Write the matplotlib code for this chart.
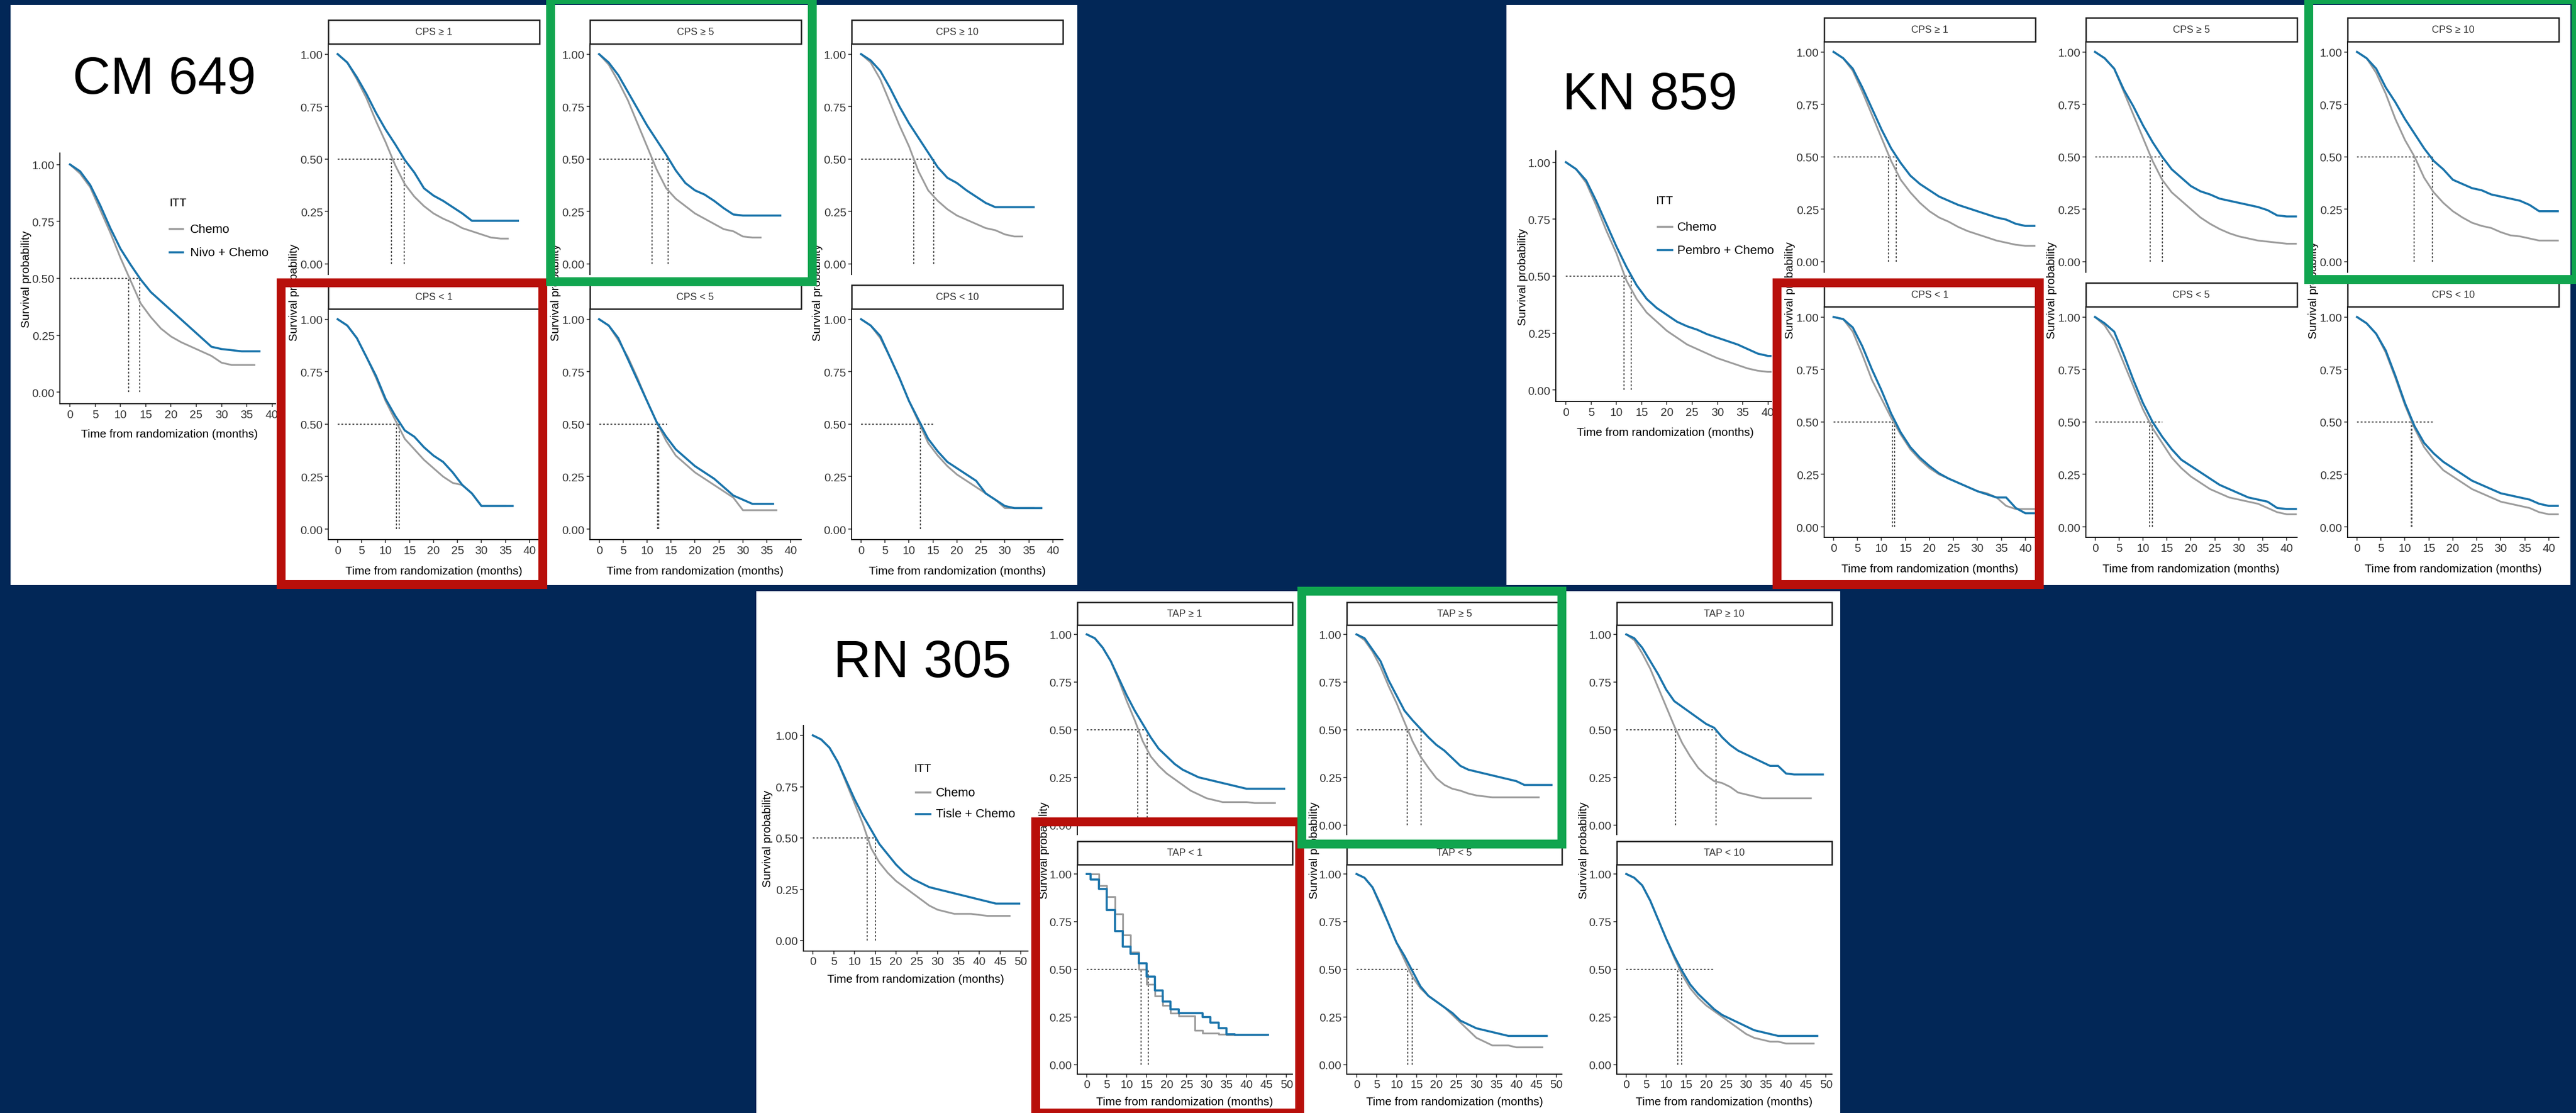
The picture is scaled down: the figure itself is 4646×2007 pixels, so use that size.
import matplotlib
matplotlib.use("Agg")
import matplotlib.pyplot as plt
from matplotlib.patches import Rectangle
from matplotlib.lines import Line2D

# ---- data (survival at 0, 2, 4, ... months) ----
grid_cm = list(range(0, 41, 2))
grid_kn = list(range(0, 43, 2))
grid_rn = list(range(0, 51, 2))

# CheckMate 649
cm_itt_chemo = [1.00, 0.96, 0.90, 0.80, 0.70, 0.59, 0.49, 0.39, 0.33, 0.28, 0.245, 0.22, 0.20, 0.18, 0.16, 0.13, 0.12, 0.12, 0.12]
cm_itt_io = [1.00, 0.97, 0.91, 0.82, 0.72, 0.63, 0.56, 0.495, 0.44, 0.40, 0.36, 0.32, 0.28, 0.24, 0.20, 0.19, 0.185, 0.18, 0.18]
cm_ge1_chemo = [1.00, 0.96, 0.88, 0.79, 0.68, 0.58, 0.47, 0.38, 0.32, 0.275, 0.24, 0.215, 0.195, 0.17, 0.155, 0.14, 0.125, 0.12]
cm_ge1_io = [1.00, 0.96, 0.89, 0.81, 0.72, 0.64, 0.57, 0.495, 0.435, 0.36, 0.325, 0.30, 0.27, 0.24, 0.205, 0.205, 0.205, 0.205, 0.205]
cm_ge5_chemo = [1.00, 0.95, 0.87, 0.78, 0.67, 0.56, 0.45, 0.36, 0.31, 0.275, 0.24, 0.215, 0.19, 0.165, 0.155, 0.13, 0.125]
cm_ge5_io = [1.00, 0.96, 0.90, 0.82, 0.74, 0.66, 0.59, 0.52, 0.445, 0.385, 0.35, 0.33, 0.30, 0.265, 0.235, 0.23, 0.23, 0.23, 0.23]
cm_ge10_chemo = [1.00, 0.96, 0.88, 0.77, 0.66, 0.56, 0.44, 0.35, 0.30, 0.26, 0.23, 0.21, 0.19, 0.17, 0.16, 0.14, 0.13]
cm_ge10_io = [1.00, 0.97, 0.92, 0.84, 0.75, 0.67, 0.60, 0.53, 0.46, 0.41, 0.385, 0.35, 0.32, 0.29, 0.27, 0.27, 0.27, 0.27]
cm_lt1_chemo = [1.00, 0.97, 0.91, 0.82, 0.72, 0.61, 0.52, 0.43, 0.38, 0.33, 0.29, 0.25, 0.22, 0.21, 0.17, 0.11, 0.11, 0.11]
cm_lt1_io = [1.00, 0.97, 0.91, 0.82, 0.73, 0.62, 0.54, 0.47, 0.44, 0.39, 0.35, 0.32, 0.27, 0.21, 0.17, 0.11, 0.11, 0.11, 0.11]
cm_lt5_chemo = [1.00, 0.97, 0.90, 0.82, 0.72, 0.61, 0.51, 0.42, 0.35, 0.31, 0.27, 0.24, 0.21, 0.18, 0.15, 0.09, 0.09, 0.09, 0.09]
cm_lt5_io = [1.00, 0.97, 0.91, 0.81, 0.71, 0.61, 0.51, 0.44, 0.38, 0.34, 0.30, 0.27, 0.24, 0.20, 0.16, 0.14, 0.12, 0.12, 0.12]
cm_lt10_chemo = [1.00, 0.97, 0.91, 0.82, 0.72, 0.61, 0.51, 0.41, 0.35, 0.30, 0.26, 0.23, 0.20, 0.17, 0.14, 0.10, 0.10, 0.10]
cm_lt10_io = [1.00, 0.97, 0.92, 0.82, 0.72, 0.61, 0.52, 0.43, 0.37, 0.32, 0.29, 0.26, 0.23, 0.17, 0.14, 0.11, 0.10, 0.10, 0.10]
cm_ends = {"itt": (36.5, 37.5), "ge1": (35.5, 37.6), "ge5": (33.7, 37.8), "ge10": (33.6, 36.0),
           "lt1": (35.0, 36.5), "lt5": (37.0, 36.3), "lt10": (36.0, 37.6)}
cm_medians = {"itt": [11.6, 13.8], "ge1": [11.2, 13.9], "ge5": [11.1, 14.4], "ge10": [11.0, 15.1],
              "lt1": [12.3, 12.8], "lt5": [12.2, 12.4], "lt10": [12.4]}
cm_hline = {"itt": 13.8, "ge1": 13.9, "ge5": 14.4, "ge10": 15.1, "lt1": 12.9, "lt5": 14.2, "lt10": 15.1}

# KEYNOTE-859
kn_itt_chemo = [1.00, 0.97, 0.91, 0.81, 0.70, 0.60, 0.48, 0.40, 0.34, 0.30, 0.26, 0.23, 0.20, 0.18, 0.16, 0.14, 0.125, 0.11, 0.095, 0.085, 0.08]
kn_itt_io = [1.00, 0.97, 0.92, 0.83, 0.73, 0.63, 0.54, 0.46, 0.40, 0.36, 0.33, 0.30, 0.28, 0.265, 0.245, 0.23, 0.215, 0.20, 0.18, 0.16, 0.15]
kn_ge1_chemo = [1.00, 0.97, 0.91, 0.81, 0.70, 0.59, 0.48, 0.39, 0.33, 0.28, 0.24, 0.21, 0.19, 0.165, 0.145, 0.13, 0.115, 0.10, 0.09, 0.08, 0.075]
kn_ge1_io = [1.00, 0.97, 0.92, 0.83, 0.73, 0.63, 0.54, 0.47, 0.41, 0.37, 0.34, 0.31, 0.29, 0.27, 0.255, 0.24, 0.225, 0.21, 0.20, 0.18, 0.17]
kn_ge5_chemo = [1.00, 0.97, 0.92, 0.81, 0.70, 0.59, 0.48, 0.39, 0.33, 0.29, 0.25, 0.21, 0.18, 0.155, 0.135, 0.12, 0.11, 0.10, 0.095, 0.09, 0.085]
kn_ge5_io = [1.00, 0.97, 0.92, 0.82, 0.74, 0.65, 0.57, 0.50, 0.44, 0.40, 0.36, 0.335, 0.32, 0.30, 0.29, 0.28, 0.27, 0.26, 0.245, 0.22, 0.215]
kn_ge10_chemo = [1.00, 0.97, 0.90, 0.80, 0.68, 0.58, 0.50, 0.40, 0.33, 0.28, 0.24, 0.21, 0.185, 0.17, 0.16, 0.14, 0.125, 0.12, 0.11, 0.10, 0.10]
kn_ge10_io = [1.00, 0.97, 0.92, 0.83, 0.76, 0.68, 0.61, 0.54, 0.48, 0.44, 0.39, 0.37, 0.35, 0.34, 0.32, 0.31, 0.30, 0.29, 0.27, 0.24, 0.24]
kn_lt1_chemo = [1.00, 0.99, 0.93, 0.82, 0.70, 0.61, 0.52, 0.44, 0.37, 0.32, 0.28, 0.25, 0.23, 0.21, 0.19, 0.17, 0.16, 0.14, 0.10, 0.085, 0.085]
kn_lt1_io = [1.00, 0.99, 0.95, 0.86, 0.75, 0.65, 0.54, 0.45, 0.38, 0.33, 0.29, 0.255, 0.23, 0.21, 0.19, 0.17, 0.155, 0.14, 0.14, 0.09, 0.065]
kn_lt5_chemo = [1.00, 0.96, 0.89, 0.78, 0.67, 0.56, 0.47, 0.40, 0.33, 0.28, 0.24, 0.21, 0.18, 0.16, 0.14, 0.13, 0.12, 0.11, 0.09, 0.07, 0.06]
kn_lt5_io = [1.00, 0.97, 0.93, 0.82, 0.70, 0.59, 0.50, 0.43, 0.37, 0.32, 0.29, 0.26, 0.23, 0.20, 0.18, 0.16, 0.14, 0.13, 0.12, 0.09, 0.085]
kn_lt10_chemo = [1.00, 0.97, 0.92, 0.83, 0.71, 0.58, 0.47, 0.38, 0.32, 0.27, 0.24, 0.21, 0.18, 0.16, 0.14, 0.12, 0.11, 0.10, 0.09, 0.07, 0.06]
kn_lt10_io = [1.00, 0.97, 0.92, 0.84, 0.72, 0.59, 0.48, 0.40, 0.35, 0.31, 0.28, 0.25, 0.22, 0.20, 0.18, 0.16, 0.15, 0.14, 0.13, 0.11, 0.10]
kn_ends = {"itt": (40.7, 40.7), "ge1": (42.0, 42.2), "ge5": (41.9, 41.9), "ge10": (41.9, 41.9),
           "lt1": (42.0, 42.0), "lt5": (41.9, 41.9), "lt10": (41.9, 41.9)}
kn_medians = {"itt": [11.5, 12.9], "ge1": [11.4, 13.1], "ge5": [11.5, 14.0], "ge10": [11.9, 15.7],
              "lt1": [12.2, 12.7], "lt5": [11.4, 12.0], "lt10": [11.3, 11.5]}
kn_hline = {"itt": 12.9, "ge1": 13.1, "ge5": 14.0, "ge10": 15.7, "lt1": 12.7, "lt5": 14.0, "lt10": 15.8}

# RATIONALE-305
rn_itt_chemo = [1.00, 0.98, 0.94, 0.87, 0.77, 0.67, 0.57, 0.45, 0.38, 0.33, 0.29, 0.26, 0.23, 0.20, 0.17, 0.15, 0.14, 0.13, 0.13, 0.13, 0.125, 0.12, 0.12, 0.12]
rn_itt_io = [1.00, 0.98, 0.94, 0.87, 0.78, 0.69, 0.61, 0.54, 0.47, 0.42, 0.37, 0.33, 0.30, 0.28, 0.26, 0.25, 0.24, 0.23, 0.22, 0.21, 0.20, 0.19, 0.18, 0.18, 0.18]
rn_ge1_chemo = [1.00, 0.98, 0.93, 0.86, 0.76, 0.65, 0.55, 0.44, 0.36, 0.31, 0.27, 0.24, 0.21, 0.18, 0.16, 0.14, 0.13, 0.12, 0.12, 0.12, 0.12, 0.115, 0.115, 0.115]
rn_ge1_io = [1.00, 0.98, 0.93, 0.86, 0.77, 0.68, 0.60, 0.53, 0.46, 0.40, 0.36, 0.32, 0.29, 0.27, 0.25, 0.24, 0.23, 0.22, 0.21, 0.20, 0.19, 0.19, 0.19, 0.19, 0.19]
rn_ge5_chemo = [1.00, 0.97, 0.91, 0.83, 0.73, 0.64, 0.54, 0.44, 0.36, 0.30, 0.245, 0.21, 0.19, 0.18, 0.165, 0.155, 0.15, 0.145, 0.145, 0.145, 0.145, 0.145, 0.145]
rn_ge5_io = [1.00, 0.98, 0.92, 0.86, 0.76, 0.68, 0.60, 0.55, 0.505, 0.46, 0.42, 0.39, 0.35, 0.31, 0.29, 0.28, 0.27, 0.26, 0.25, 0.24, 0.23, 0.21, 0.21, 0.21, 0.21]
rn_ge10_chemo = [1.00, 0.97, 0.90, 0.82, 0.72, 0.62, 0.52, 0.43, 0.36, 0.30, 0.26, 0.23, 0.22, 0.20, 0.17, 0.16, 0.15, 0.14, 0.14, 0.14, 0.14, 0.14, 0.14, 0.14]
rn_ge10_io = [1.00, 0.98, 0.93, 0.86, 0.79, 0.71, 0.65, 0.62, 0.59, 0.56, 0.53, 0.51, 0.46, 0.42, 0.39, 0.37, 0.35, 0.33, 0.31, 0.31, 0.27, 0.265, 0.265, 0.265, 0.265]
rn_lt1_chemo = [1.00, 1.00, 0.94, 0.88, 0.79, 0.68, 0.59, 0.50, 0.42, 0.36, 0.31, 0.27, 0.255, 0.255, 0.18, 0.165, 0.165, 0.16, 0.156, 0.156, 0.156, 0.156, 0.156]
rn_lt1_io = [1.00, 0.97, 0.92, 0.81, 0.70, 0.62, 0.58, 0.53, 0.46, 0.39, 0.33, 0.29, 0.27, 0.27, 0.27, 0.25, 0.22, 0.19, 0.16, 0.156, 0.156, 0.156, 0.156]
rn_lt5_chemo = [1.00, 0.98, 0.93, 0.83, 0.74, 0.64, 0.55, 0.46, 0.40, 0.36, 0.33, 0.30, 0.26, 0.22, 0.18, 0.14, 0.12, 0.10, 0.10, 0.10, 0.09, 0.09, 0.09, 0.09]
rn_lt5_io = [1.00, 0.98, 0.93, 0.84, 0.74, 0.64, 0.57, 0.49, 0.41, 0.36, 0.33, 0.30, 0.27, 0.23, 0.21, 0.19, 0.18, 0.17, 0.16, 0.15, 0.15, 0.15, 0.15, 0.15]
rn_lt10_chemo = [1.00, 0.98, 0.94, 0.86, 0.76, 0.66, 0.56, 0.47, 0.40, 0.35, 0.31, 0.28, 0.25, 0.22, 0.19, 0.16, 0.14, 0.13, 0.12, 0.12, 0.11, 0.11, 0.11, 0.11]
rn_lt10_io = [1.00, 0.98, 0.94, 0.86, 0.76, 0.66, 0.57, 0.49, 0.42, 0.37, 0.33, 0.29, 0.26, 0.24, 0.22, 0.20, 0.18, 0.17, 0.16, 0.15, 0.15, 0.15, 0.15, 0.15]
rn_ends = {"itt": (47.3, 49.6), "ge1": (47.1, 49.4), "ge5": (45.6, 48.8), "ge10": (46.2, 49.2),
           "lt1": (45.0, 45.3), "lt5": (46.5, 47.6), "lt10": (46.9, 47.8)}
rn_medians = {"itt": [13.0, 15.0], "ge1": [12.8, 15.1], "ge5": [12.7, 16.2], "ge10": [12.3, 22.4],
              "lt1": [13.6, 15.4], "lt5": [12.8, 14.0], "lt10": [12.9, 13.9]}
rn_hline = {"itt": 15.0, "ge1": 15.1, "ge5": 16.2, "ge10": 22.4, "lt1": 15.0, "lt5": 15.8, "lt10": 21.8}

cps_labels = ["CPS \u2265 1", "CPS \u2265 5", "CPS \u2265 10", "CPS < 1", "CPS < 5", "CPS < 10"]
tap_labels = ["TAP \u2265 1", "TAP \u2265 5", "TAP \u2265 10", "TAP < 1", "TAP < 5", "TAP < 10"]
keys = ["ge1", "ge5", "ge10", "lt1", "lt5", "lt10"]
ytick_vals = [0, 0.25, 0.5, 0.75, 1.0]
ytick_labels = ["0.00", "0.25", "0.50", "0.75", "1.00"]

# ---- style ----
W, H = 4646, 2008
NAVY = "#022757"
GREY = "#9c9c9c"
BLUE = "#1a74ab"
RED = "#b80f0a"
GREEN = "#10a54f"
DASH = "#505050"
plt.rcParams["font.family"] = ["Liberation Sans", "DejaVu Sans"]

fig = plt.figure(figsize=(W / 100, H / 100), dpi=100)
fig.patch.set_facecolor(NAVY)


def rect(x0, y0, x1, y1, **kw):
    r = Rectangle((x0 / W, 1 - y1 / H), (x1 - x0) / W, (y1 - y0) / H,
                  transform=fig.transFigure, **kw)
    fig.add_artist(r)


def txt(x, y, s, **kw):
    fig.text(x / W, 1 - y / H, s, **kw)


def add_ax(x0, y0, x1, y1):
    return fig.add_axes([x0 / W, 1 - y1 / H, (x1 - x0) / W, (y1 - y0) / H])


def km(ax, grid, chemo, io, ends, meds, hend, steps=False):
    ds = "steps-mid" if steps else "default"
    for vals, end, col, lw in [(chemo, ends[0], GREY, 2.3), (io, ends[1], BLUE, 2.7)]:
        t = [g for g in grid[:len(vals)] if g < end]
        s = vals[:len(t)]
        ax.plot(t + [end], s + [s[-1]], color=col, lw=lw, drawstyle=ds,
                solid_joinstyle="round", zorder=3)
    ax.plot([0, hend], [0.5, 0.5], color=DASH, lw=1.5, ls=(0, (1.6, 1.6)), zorder=2)
    for m in meds:
        ax.plot([m, m], [0, 0.5], color=DASH, lw=1.5, ls=(0, (1.6, 1.6)), zorder=2)


def style(ax, xlim, xticks, show_x=True):
    ax.set_facecolor("none")
    ax.set_xlim(*xlim)
    ax.set_ylim(-0.05, 1.05)
    ax.set_yticks(ytick_vals)
    ax.set_yticklabels(ytick_labels)
    ax.spines["top"].set_visible(False)
    ax.spines["right"].set_visible(False)
    ax.spines["left"].set_linewidth(1.3)
    ax.spines["bottom"].set_linewidth(1.3)
    if show_x:
        ax.set_xticks(xticks)
        ax.set_xticklabels([str(v) for v in xticks])
    else:
        ax.spines["bottom"].set_visible(False)
        ax.set_xticks([])
    ax.tick_params(labelsize=15, length=4, width=1.2, color="#333333",
                   labelcolor="#333333", pad=3)


trials = [
    dict(name="CM 649", arm="Nivo + Chemo", grid=grid_cm, pre="cm", labels=cps_labels,
         panel=(19, 10, 1943, 1056), title=(296, 145),
         itt=(108, 277, 497, 729), itt_xlim=(-2.0, 40.7), xticks=list(range(0, 41, 5)),
         itt_ylab=(48, 503), itt_xlab=(305, 784),
         leg_title=(305, 366), leg_x=(306, 330), leg_y=(414, 456), leg_tx=343,
         cols=[592, 1063.5, 1536], col_w=381, fac_xlim=(-1.97, 42.1),
         rows=[(79.7, 495.5), (557.7, 974)], strips=[(37, 79.7), (515, 557.7)],
         fac_ylab=(-61, 527), fac_xlab=1031),
    dict(name="KN 859", arm="Pembro + Chemo", grid=grid_kn, pre="kn", labels=cps_labels,
         panel=(2717, 10, 4636, 1056), title=(2976, 172),
         itt=(2806, 273, 3195, 725), itt_xlim=(-2.0, 40.7), xticks=list(range(0, 41, 5)),
         itt_ylab=(2746, 499), itt_xlab=(3003, 780),
         leg_title=(2986, 362), leg_x=(2990, 3016), leg_y=(410, 452), leg_tx=3025,
         cols=[3290, 3761.5, 4234], col_w=381, fac_xlim=(-1.97, 42.1),
         rows=[(75.7, 491.5), (553.7, 970)], strips=[(33, 75.7), (511, 553.7)],
         fac_ylab=(-61, 523), fac_xlab=1027),
    dict(name="RN 305", arm="Tisle + Chemo", grid=grid_rn, pre="rn", labels=tap_labels,
         panel=(1364, 1067, 3319, 2008), title=(1663, 1197),
         itt=(1449, 1308.5, 1854, 1715.5), itt_xlim=(-2.27, 51.7), xticks=list(range(0, 51, 5)),
         itt_ylab=(1385, 1512), itt_xlab=(1652, 1767),
         leg_title=(1648, 1386), leg_x=(1652, 1678), leg_y=(1430, 1469), leg_tx=1688,
         cols=[1942.5, 2429, 2915.5], col_w=388, fac_xlim=(-2.44, 51.4),
         rows=[(1127.8, 1505.8), (1559.8, 1937.7)], strips=[(1087, 1127.8), (1518, 1559.8)],
         fac_ylab=(-59, 1533), fac_xlab=1988),
]

data = globals()
for tr in trials:
    pre = tr["pre"]
    ends = data[pre + "_ends"]
    meds = data[pre + "_medians"]
    hl = data[pre + "_hline"]
    rect(*tr["panel"], facecolor="white", edgecolor="none", zorder=-5)
    txt(*tr["title"], tr["name"], fontsize=68, ha="center", va="center", color="black")

    # ITT plot
    x0, y0, x1, y1 = tr["itt"]
    ax = add_ax(x0, y0, x1, y1)
    km(ax, tr["grid"], data[pre + "_itt_chemo"], data[pre + "_itt_io"],
       ends["itt"], meds["itt"], hl["itt"])
    style(ax, tr["itt_xlim"], tr["xticks"])
    txt(*tr["itt_ylab"], "Survival probability", fontsize=15, rotation=90,
        ha="center", va="center")
    txt(*tr["itt_xlab"], "Time from randomization (months)", fontsize=15,
        ha="center", va="center")
    txt(*tr["leg_title"], "ITT", fontsize=15, ha="left", va="center")
    for yy, lab, col in zip(tr["leg_y"], ["Chemo", tr["arm"]], [GREY, BLUE]):
        fig.add_artist(Line2D([tr["leg_x"][0] / W, tr["leg_x"][1] / W], [1 - yy / H, 1 - yy / H],
                              transform=fig.transFigure, color=col, lw=2.6))
        txt(tr["leg_tx"], yy, lab, fontsize=16, ha="left", va="center")

    # subgroup facets
    for i, key in enumerate(keys):
        r, c = divmod(i, 3)
        cx0 = tr["cols"][c]
        cx1 = cx0 + tr["col_w"]
        ry0, ry1 = tr["rows"][r]
        ax = add_ax(cx0, ry0, cx1, ry1)
        km(ax, tr["grid"], data[pre + "_" + key + "_chemo"], data[pre + "_" + key + "_io"],
           ends[key], meds[key], hl[key], steps=(pre == "rn" and key == "lt1"))
        style(ax, tr["fac_xlim"], tr["xticks"], show_x=(r == 1))
        sy0, sy1 = tr["strips"][r]
        rect(cx0, sy0, cx1, sy1, facecolor="white", edgecolor="#1a1a1a", lw=1.8, zorder=2)
        txt((cx0 + cx1) / 2, (sy0 + sy1) / 2, tr["labels"][i], fontsize=13,
            ha="center", va="center", color="#333333", zorder=3)
        if r == 1:
            txt((cx0 + cx1) / 2, tr["fac_xlab"], "Time from randomization (months)",
                fontsize=15, ha="center", va="center")
    for c in range(3):
        txt(tr["cols"][c] + tr["fac_ylab"][0], tr["fac_ylab"][1], "Survival probability",
            fontsize=15, rotation=90, ha="center", va="center")

# highlight boxes (outer edge coordinates, 16 px thick)
red_boxes = [(499, 503, 987, 1063), (3197, 503, 3686, 1063), (1860, 1475, 2352, 2016)]
green_boxes = [(985, -8, 1473, 517), (4156, -8, 4654, 513), (2340, 1059, 2825, 1531)]
for col, boxes in [(RED, red_boxes), (GREEN, green_boxes)]:
    for bx0, by0, bx1, by1 in boxes:
        rect(bx0 + 8, by0 + 8, bx1 - 8, by1 - 8, facecolor="none", edgecolor=col,
             lw=11.5, zorder=6)

fig.savefig("out.png", dpi=100, facecolor=NAVY)
